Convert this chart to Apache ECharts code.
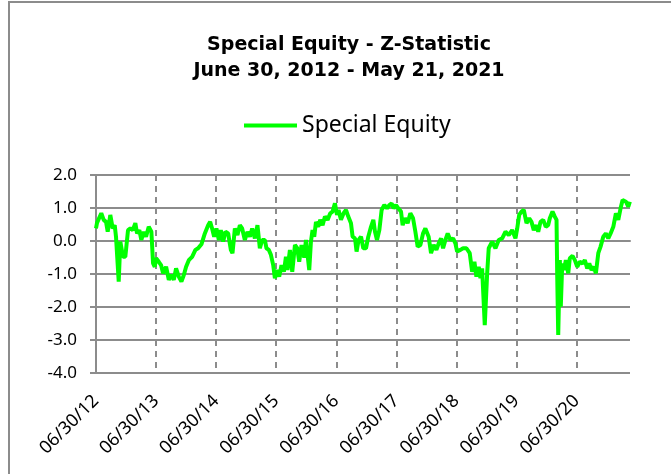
<!DOCTYPE html>
<html>
<head>
<meta charset="utf-8">
<script src="https://cdn.jsdelivr.net/npm/echarts@6/dist/echarts.min.js"></script>
<style>
  html, body { margin: 0; padding: 0; background: #fff; }
  #chart { width: 671px; height: 474px; }
</style>
</head>
<body>
<div id="chart"></div>
<script>
// years since 06/30/2012 for each reading
const yearsSinceStart = [
  0.000, 0.017, 0.088, 0.128, 0.167, 0.195, 0.238, 0.278, 0.312, 0.333,
  0.378, 0.405, 0.450, 0.488, 0.533, 0.572, 0.612, 0.655, 0.683, 0.722,
  0.755, 0.795, 0.833, 0.878, 0.922, 0.950, 0.978, 1.000, 1.045, 1.083,
  1.117, 1.167, 1.212, 1.255, 1.295, 1.333, 1.378, 1.422, 1.462, 1.500,
  1.545, 1.600, 1.655, 1.700, 1.755, 1.812, 1.867, 1.900, 1.933, 1.967,
  2.005, 2.045, 2.078, 2.117, 2.155, 2.200, 2.245, 2.272, 2.312, 2.355,
  2.395, 2.433, 2.478, 2.522, 2.562, 2.600, 2.645, 2.688, 2.728, 2.767,
  2.812, 2.838, 2.878, 2.912, 2.950, 2.978, 3.017, 3.050, 3.088, 3.128,
  3.162, 3.188, 3.228, 3.267, 3.312, 3.350, 3.383, 3.422, 3.467, 3.495,
  3.522, 3.550, 3.578, 3.605, 3.633, 3.662, 3.700, 3.733, 3.772, 3.812,
  3.855, 3.900, 3.938, 3.978, 4.012, 4.038, 4.078, 4.122, 4.162, 4.200,
  4.245, 4.272, 4.312, 4.338, 4.372, 4.412, 4.450, 4.495, 4.533, 4.578,
  4.617, 4.645, 4.678, 4.717, 4.755, 4.800, 4.845, 4.883, 4.922, 4.955,
  4.995, 5.033, 5.078, 5.105, 5.145, 5.188, 5.233, 5.278, 5.317, 5.355,
  5.400, 5.445, 5.483, 5.512, 5.538, 5.578, 5.622, 5.667, 5.705, 5.745,
  5.778, 5.817, 5.855, 5.900, 5.945, 5.983, 6.012, 6.067, 6.112, 6.167,
  6.222, 6.262, 6.300, 6.333, 6.372, 6.400, 6.428, 6.472, 6.512, 6.538,
  6.595, 6.650, 6.705, 6.762, 6.817, 6.872, 6.928, 6.983, 7.012, 7.045,
  7.083, 7.122, 7.167, 7.212, 7.250, 7.288, 7.333, 7.362, 7.400, 7.445,
  7.488, 7.528, 7.555, 7.600, 7.638, 7.667, 7.678, 7.695, 7.722, 7.738,
  7.762, 7.788, 7.822, 7.862, 7.888, 7.933, 7.972, 8.012, 8.055, 8.100,
  8.138, 8.178, 8.212, 8.250, 8.288, 8.322, 8.362, 8.400, 8.445, 8.488,
  8.528, 8.567, 8.612, 8.655, 8.695, 8.733, 8.767, 8.822, 8.862, 8.888
];

// Special Equity Z-statistic
const zStat = [
  0.38, 0.55, 0.84, 0.64, 0.58, 0.28, 0.79, 0.38, 0.48, 0.13,
  -1.23, -0.02, -0.48, -0.48, 0.33, 0.38, 0.33, 0.54, 0.23, 0.33,
  0.03, 0.28, 0.13, 0.43, 0.28, -0.68, -0.78, -0.52, -0.63, -0.73,
  -0.98, -0.78, -1.18, -1.03, -1.18, -0.83, -1.08, -1.23, -1.03, -0.78,
  -0.58, -0.48, -0.27, -0.22, -0.10, 0.23, 0.48, 0.58, 0.38, 0.13,
  0.38, 0.03, 0.33, -0.02, 0.28, 0.23, -0.27, -0.37, 0.38, 0.18,
  0.48, 0.38, 0.03, 0.28, 0.13, 0.38, 0.08, 0.48, -0.22, 0.03,
  0.03, -0.22, -0.27, -0.42, -0.73, -1.13, -0.88, -1.08, -0.73, -0.93,
  -0.48, -0.88, -0.27, -0.93, -0.12, -0.22, -0.63, -0.12, -0.50, 0.03,
  0.08, -0.88, -0.02, 0.33, 0.13, 0.58, 0.43, 0.64, 0.48, 0.74,
  0.64, 0.84, 0.89, 1.14, 0.79, 0.94, 0.64, 0.84, 0.94, 0.74,
  0.54, 0.13, 0.08, -0.32, 0.03, 0.13, -0.22, -0.22, 0.13, 0.43,
  0.64, 0.28, 0.03, 0.33, 0.94, 1.09, 0.99, 1.09, 1.14, 0.99,
  1.09, 0.99, 0.89, 0.48, 0.69, 0.54, 0.84, 0.69, 0.28, -0.17,
  -0.12, 0.23, 0.38, 0.43, 0.13, -0.37, -0.12, -0.27, -0.07, 0.08,
  -0.22, 0.03, 0.23, 0.03, 0.08, -0.07, -0.32, -0.27, -0.22, -0.22,
  -0.37, -0.93, -0.63, -1.08, -0.78, -1.13, -0.83, -2.55, -0.98, -0.22,
  -0.02, -0.22, 0.03, 0.08, 0.28, 0.18, 0.33, 0.08, 0.38, 0.79,
  0.89, 0.94, 0.54, 0.69, 0.58, 0.33, 0.48, 0.28, 0.58, 0.64,
  0.43, 0.48, 0.69, 0.89, 0.74, 0.64, -1.03, -2.85, -0.58, -1.99,
  -0.68, -0.88, -0.58, -0.98, -0.52, -0.45, -0.58, -0.78, -0.63, -0.68,
  -0.58, -0.83, -0.68, -0.88, -0.78, -0.98, -0.37, -0.17, 0.13, 0.23,
  0.08, 0.23, 0.43, 0.84, 0.64, 0.99, 1.24, 1.19, 1.04, 1.19
];

const startYear = 12;       // axis starts 06/30/12
const endOffset = 8.89;     // May 21, 2021
const yMin = -4, yMax = 2;

const chart = echarts.init(document.getElementById('chart'));

chart.setOption({
  backgroundColor: '#fff',
  animation: false,
  graphic: [{
    type: 'rect',
    shape: { x: 9, y: 2, width: 700, height: 520 },
    style: { fill: 'none', stroke: '#8c8c8c', lineWidth: 2 },
    silent: true
  }],
  title: {
    text: 'Special Equity - Z-Statistic\nJune 30, 2012 - May 21, 2021',
    left: 344,
    top: 27,
    textAlign: 'center',
    textStyle: {
      fontFamily: 'DejaVu Sans',
      fontWeight: 'bold',
      fontSize: 19,
      lineHeight: 26,
      color: '#000'
    }
  },
  legend: {
    data: ['Special Equity'],
    left: 244,
    top: 114,
    padding: 0,
    icon: 'rect',
    itemWidth: 53,
    itemHeight: 4,
    textStyle: { fontFamily: 'Noto Sans', fontSize: 23, color: '#000' }
  },
  grid: { left: 96, right: 41, top: 175, bottom: 101 },
  xAxis: {
    type: 'value',
    min: 0,
    max: endOffset,
    interval: 1,
    axisLine: { lineStyle: { color: '#8c8c8c', width: 2 } },
    axisTick: { show: false },
    splitLine: {
      show: true,
      showMinLine: false,
      showMaxLine: false,
      lineStyle: { color: '#8c8c8c', width: 2, type: [6, 5] }
    },
    axisLabel: {
      rotate: 45,
      margin: 25,
      showMaxLabel: false,
      fontFamily: 'Noto Sans',
      fontSize: 18,
      color: '#000',
      formatter: v => '06/30/' + (startYear + Math.round(v))
    }
  },
  yAxis: {
    type: 'value',
    min: yMin,
    max: yMax,
    interval: 1,
    axisLine: { show: true, lineStyle: { color: '#8c8c8c', width: 2 } },
    axisTick: { show: true, length: 6, lineStyle: { color: '#8c8c8c', width: 2 } },
    splitLine: { show: true, lineStyle: { color: '#8c8c8c', width: 2 } },
    axisLabel: {
      margin: 19,
      fontFamily: 'Noto Sans',
      fontSize: 17,
      color: '#000',
      formatter: v => v.toFixed(1)
    }
  },
  series: [{
    name: 'Special Equity',
    type: 'line',
    data: yearsSinceStart.map((t, i) => [t, zStat[i]]),
    showSymbol: false,
    color: '#00ff00',
    lineStyle: { color: '#00ff00', width: 4 },
    z: 5
  }]
});
</script>
</body>
</html>
